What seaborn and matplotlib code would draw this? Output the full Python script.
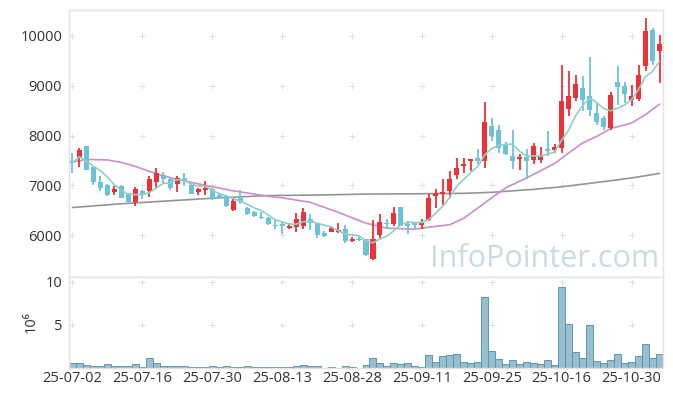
import numpy as np
import pandas as pd
import matplotlib
matplotlib.use('Agg')
import matplotlib.pyplot as plt
import seaborn as sns

# Daily OHLC (KRW), 2025-07-02 .. 2025-11-05, one entry per trading day
opens = [7490, 7540, 7780, 7360, 7060, 7010, 6870, 6980, 6840, 6670,
         6880, 6890, 7070, 7210, 7130, 7030, 7140, 7010, 6860, 6910,
         6920, 6800, 6790, 6510, 6750, 6550, 6470, 6370, 6340, 6210,
         6220, 6140, 6170, 6190, 6320, 6240, 6040, 6070, 6070, 6120,
         5880, 5930, 5920, 5520, 6000, 6240, 6220, 6560, 6220, 6240,
         6200, 6310, 6780, 6820, 6890, 7210, 7390, 7490, 7550, 7490,
         8200, 8110, 7820, 7590, 7520, 7570, 7510, 7510, 7730, 7710,
         7750, 8530, 8750, 8950, 8800, 8450, 8350, 8150, 9080, 9000,
         8720, 8740, 9390, 10110, 9690]
highs = [7650, 7740, 7790, 7370, 7180, 7020, 6990, 7000, 6850, 6960,
         6910, 7180, 7350, 7270, 7150, 7190, 7250, 7020, 6950, 7080,
         6940, 6840, 6800, 6750, 6900, 6560, 6480, 6460, 6360, 6330,
         6290, 6250, 6440, 6550, 6420, 6250, 6090, 6190, 6250, 6200,
         5960, 5960, 5920, 6300, 6420, 6330, 6570, 6560, 6290, 6260,
         6330, 6820, 6920, 7120, 7290, 7550, 7550, 7530, 7730, 8670,
         8350, 8220, 7880, 8110, 7620, 7720, 7850, 7770, 8090, 7820,
         9420, 9290, 9220, 9200, 9570, 8660, 8400, 8880, 9400, 9080,
         9020, 9420, 10360, 10150, 10020]
lows = [7250, 7360, 7300, 7010, 6880, 6790, 6800, 6740, 6620, 6590,
        6720, 6760, 6920, 7040, 6900, 6870, 6990, 6820, 6800, 6800,
        6710, 6720, 6570, 6490, 6620, 6400, 6370, 6320, 6200, 6120,
        6020, 6120, 6070, 6120, 6110, 5940, 5960, 6060, 6050, 5840,
        5870, 5890, 5590, 5510, 5940, 6120, 6190, 6180, 6020, 6130,
        6120, 6290, 6550, 6600, 6750, 7130, 7250, 7290, 7420, 7350,
        7890, 7650, 7600, 7320, 7310, 7130, 7420, 7450, 7590, 7650,
        7650, 8390, 8690, 8490, 8390, 8220, 8120, 8120, 8620, 8660,
        8600, 8700, 9290, 9410, 9050]
closes = [7450, 7700, 7310, 7070, 6940, 6810, 6920, 6750, 6670, 6920,
          6800, 7130, 7240, 7120, 6940, 7150, 7080, 6830, 6920, 6950,
          6720, 6750, 6580, 6690, 6660, 6420, 6380, 6340, 6220, 6190,
          6190, 6180, 6320, 6460, 6240, 6000, 5990, 6140, 6100, 5880,
          5920, 5900, 5600, 5930, 6260, 6220, 6450, 6190, 6190, 6210,
          6240, 6750, 6840, 6870, 7120, 7350, 7430, 7520, 7490, 8270,
          7990, 7750, 7620, 7490, 7570, 7490, 7790, 7600, 7690, 7770,
          8690, 8800, 9040, 8710, 8510, 8270, 8170, 8820, 8970, 8830,
          8800, 9220, 10090, 9490, 9840]
# volume, millions of shares
volume = [0.58, 0.58, 0.35, 0.23, 0.23, 0.47, 0.23, 0.23, 0.23, 0.47,
          0.15, 1.16, 0.58, 0.23, 0.23, 0.23, 0.23, 0.12, 0.12, 0.12,
          0.23, 0.12, 0.23, 0.12, 0.12, 0.23, 0.12, 0.12, 0.12, 0.12,
          0.12, 0.12, 0.23, 0.35, 0.23, 0.23, 0.03, 0.12, 0.05, 0.23,
          0.12, 0.03, 0.35, 1.16, 0.58, 0.23, 0.58, 0.47, 0.58, 0.23,
          0.12, 1.51, 0.70, 1.40, 1.51, 1.63, 0.70, 0.58, 0.70, 8.26,
          1.98, 1.05, 0.47, 0.93, 0.47, 0.70, 0.58, 0.47, 0.93, 0.35,
          9.42, 5.12, 1.86, 1.16, 5.00, 0.81, 0.58, 0.93, 1.63, 0.58,
          0.70, 1.40, 2.79, 1.16, 1.63]

# longer moving averages (trading-day index, price)
ma20_idx = [0, 2, 5, 7, 9, 11, 13, 15, 19, 23, 28, 30, 34, 38, 42, 45, 49, 51,
            54, 56, 60, 62, 65, 69, 71, 73, 75, 77, 80, 82, 84]
ma20_val = [7470, 7520, 7510, 7460, 7380, 7280, 7190, 7120, 7000, 6890, 6780,
            6750, 6660, 6460, 6240, 6140, 6120, 6160, 6210, 6340, 6750, 6950,
            7150, 7440, 7650, 7850, 7980, 8140, 8250, 8420, 8630]
ma120_idx = [0, 7, 14, 21, 28, 35, 42, 49, 56, 60, 63, 66, 70, 74, 78, 81, 84]
ma120_val = [6555, 6630, 6690, 6750, 6795, 6805, 6825, 6830, 6840, 6860, 6890,
             6920, 6970, 7040, 7110, 7170, 7240]

tick_idx = [0, 10, 20, 30, 40, 50, 60, 70, 80]
tick_labels = ['25-07-02', '25-07-16', '25-07-30', '25-08-13', '25-08-28',
               '25-09-11', '25-09-25', '25-10-16', '25-10-30']
price_ticks = [6000, 7000, 8000, 9000, 10000]
vol_ticks = [5, 10]

sns.set_theme(style='white')
plt.rcParams['font.family'] = ['Open Sans', 'DejaVu Sans']

df = pd.DataFrame({'open': opens, 'high': highs, 'low': lows,
                   'close': closes, 'volume': volume})
df['idx'] = np.arange(len(df))
df['ma5'] = df['close'].rolling(5, min_periods=1).mean()
up = df['close'] >= df['open']
candle_colors = np.where(up, '#ec3237', '#6cc3d9')

fig = plt.figure(figsize=(6.73, 3.96), dpi=100)
ax = fig.add_axes([69 / 673, 1 - 277 / 396, 594 / 673, 267 / 396])
axv = fig.add_axes([69 / 673, 1 - 368 / 396, 594 / 673, 91 / 396], sharex=ax)

# grid drawn as small crosses at tick intersections
gx, gy = np.meshgrid(tick_idx, price_ticks)
ax.plot(gx.ravel(), gy.ravel(), '+', color='#dedede', ms=4.5, mew=0.7, zorder=0)
gx, gy = np.meshgrid(tick_idx, vol_ticks)
axv.plot(gx.ravel(), gy.ravel(), '+', color='#dedede', ms=4.5, mew=0.7, zorder=0)

ax.text(0.993, 0.037, 'InfoPointer.com', transform=ax.transAxes, ha='right',
        va='baseline', fontsize=22, color='#c8dbe6', zorder=0)

# candles
ax.vlines(df['idx'], df['low'], df['high'], colors=candle_colors, lw=1.3, zorder=2)
body_h = np.maximum((df['close'] - df['open']).abs(), 18)
ax.bar(df['idx'], body_h, bottom=np.minimum(df['open'], df['close']),
       width=0.72, color=candle_colors, linewidth=0, zorder=3)

sns.lineplot(x=ma120_idx, y=ma120_val, ax=ax, color='#959595', lw=1.2, zorder=1)
sns.lineplot(x=ma20_idx, y=ma20_val, ax=ax, color='#cc8ec9', lw=1.2, zorder=1)
sns.lineplot(data=df, x='idx', y='ma5', ax=ax, color='#8ed0c6', lw=1.2, zorder=4)

sns.barplot(x=df['idx'], y=df['volume'], ax=axv, native_scale=True, width=1,
            color='#98bfd0', saturation=1, edgecolor='#5f97ad', linewidth=0.7,
            errorbar=None)

ax.set_xlim(-0.5, len(df) - 0.5)
ax.set_ylim(5160, 10520)
axv.set_ylim(0, 10.55)
ax.set_yticks(price_ticks)
axv.set_yticks(vol_ticks)
axv.set_xticks(tick_idx)
axv.set_xticklabels(tick_labels)
ax.set_xlabel('')
ax.set_ylabel('')
axv.set_xlabel('')
axv.set_ylabel('10⁶', fontsize=10.5, color='#333333', labelpad=5)
ax.tick_params(axis='x', labelbottom=False, length=0)
ax.tick_params(axis='y', length=0, labelsize=10.5, colors='#333333', pad=5)
axv.tick_params(length=0, labelsize=10.5, colors='#333333', pad=5)
axv.tick_params(axis='x', pad=2)

for a in (ax, axv):
    for s in a.spines.values():
        s.set_visible(True)
        s.set_color('#e3e3e3')
        s.set_linewidth(1)

fig.savefig('out.png', dpi=100)
